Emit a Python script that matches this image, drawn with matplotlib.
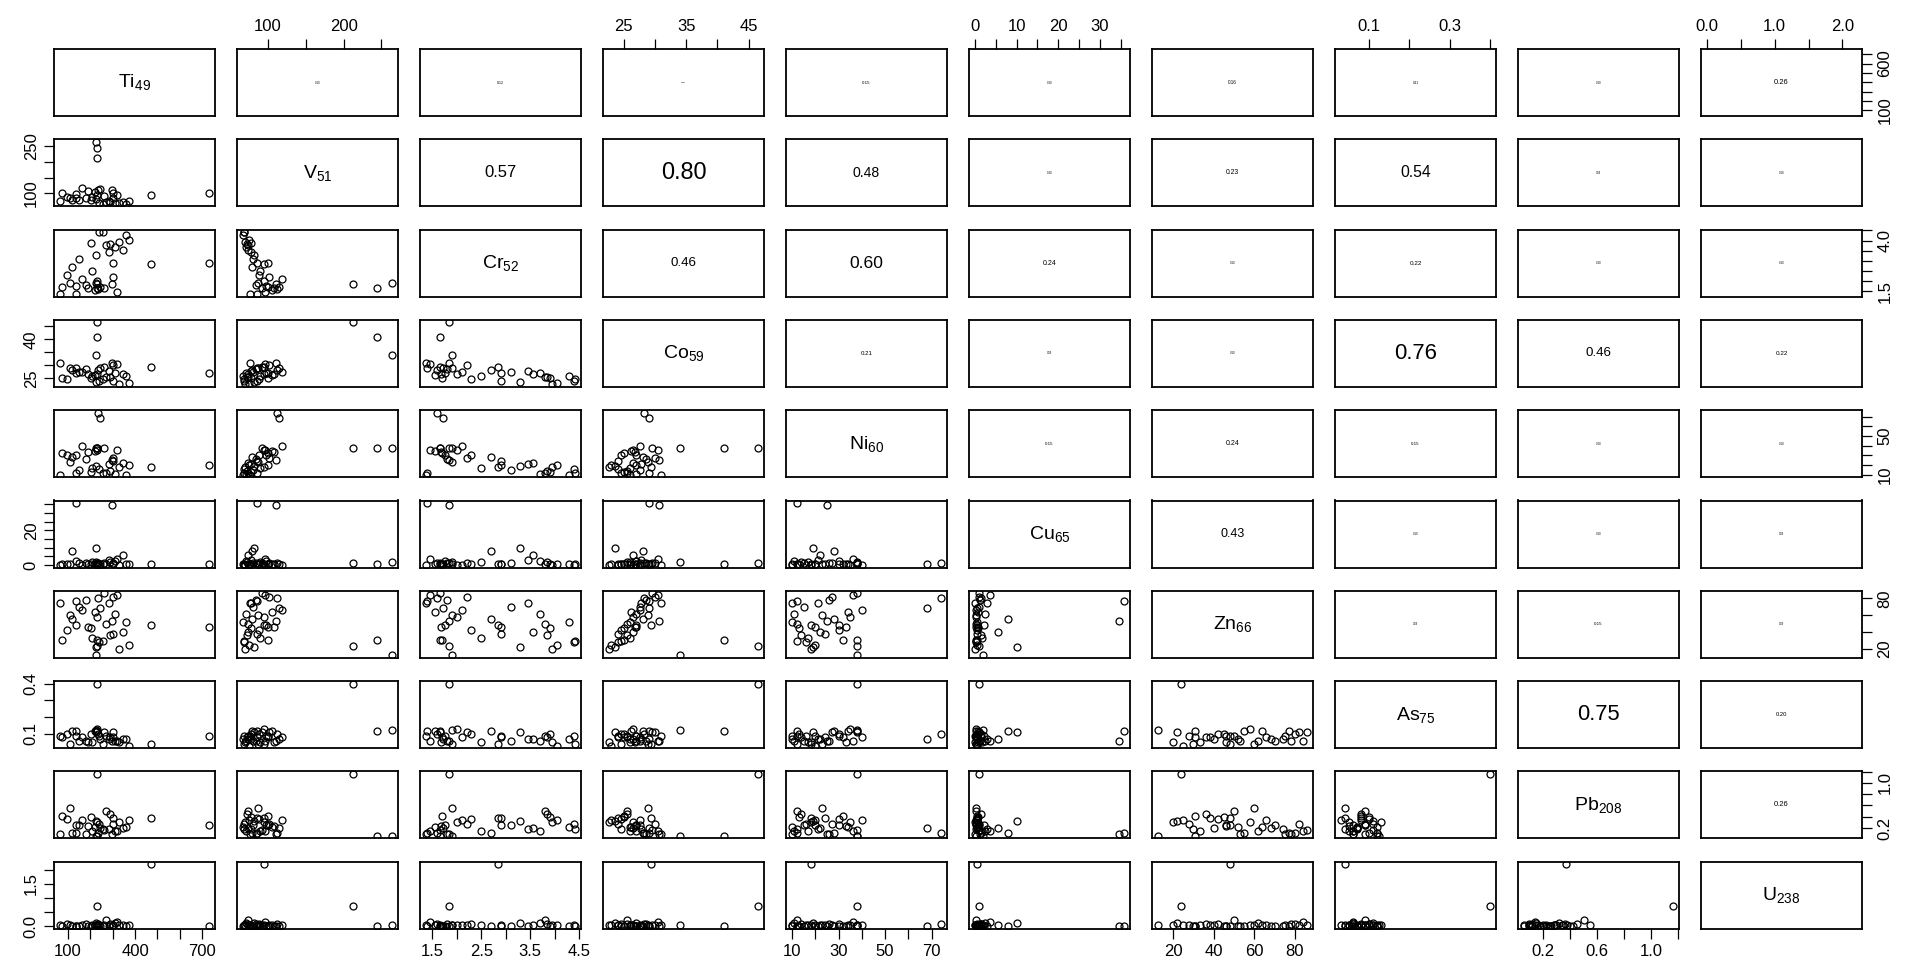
import matplotlib
matplotlib.use("Agg")
import matplotlib.pyplot as plt

plt.rcParams['font.family'] = ['Liberation Sans', 'DejaVu Sans']
plt.rcParams['mathtext.default'] = 'regular'

labels = ['Ti$_{49}$', 'V$_{51}$', 'Cr$_{52}$', 'Co$_{59}$', 'Ni$_{60}$',
          'Cu$_{65}$', 'Zn$_{66}$', 'As$_{75}$', 'Pb$_{208}$', 'U$_{238}$']

# one value per sample, same order in every list
Ti = [255, 330, 360, 290, 375, 310, 240, 205, 345, 225, 150, 300, 120, 270, 210, 95,
      285, 230, 180, 75, 260, 135, 220, 110, 235, 245, 165, 320, 190, 65, 300,
      730, 472, 228, 232, 226, 137, 295]
V = [68, 70, 67, 72, 75, 71, 69, 78, 74, 82, 80, 85, 79, 73, 90, 88,
     77, 95, 84, 100, 92, 98, 105, 87, 112, 115, 118, 96, 108, 76, 102,
     100, 95, 212, 244, 264, 85, 110]
Cr = [4.42, 3.95, 4.30, 3.85, 4.05, 3.70, 4.40, 3.90, 3.55, 3.30, 3.10, 2.90, 2.70, 3.80, 2.50, 2.30,
      3.45, 2.00, 1.80, 1.70, 1.65, 1.75, 1.55, 1.90, 1.60, 1.72, 2.10, 1.45, 1.68, 1.37, 2.20,
      2.90, 2.85, 1.85, 1.65, 1.90, 1.40, 1.85]
Co = [24.5, 22.6, 26.0, 25.5, 23.0, 27.0, 24.0, 25.0, 26.5, 23.5, 27.5, 24.0, 28.0, 25.5, 26.0, 24.5,
      27.8, 26.5, 28.5, 25.0, 29.5, 27.0, 26.2, 28.8, 28.2, 29.0, 27.5, 30.5, 26.8, 31.0, 30.0,
      27.0, 29.4, 46.5, 41.0, 34.0, 29.0, 30.7]
Ni = [12, 18, 10, 14, 20, 11, 16, 13, 22, 19, 15, 24, 28, 12, 17, 30,
      21, 35, 26, 32, 38, 30, 34, 23, 74, 68, 40, 36, 33, 10, 27,
      20, 18, 38, 38, 38, 12, 25]
Cu = [0.3, 0.1, 0.6, 1.5, 0.4, 2.5, 0.2, 0.8, 5.5, 10.0, 1.0, 0.5, 8.0, 0.3, 1.8, 0.6,
      3.0, 0.2, 1.2, 0.4, 0.9, 2.2, 0.7, 0.3, 1.4, 0.5, 0.2, 3.5, 0.8, 0.0, 1.0,
      0.3, 0.5, 1.0, 0.3, 2.0, 35.8, 34.5]
Zn = [30, 20, 52, 36, 25, 62, 28, 45, 40, 22, 70, 38, 55, 50, 33, 42,
      74, 58, 78, 31, 86, 48, 64, 60, 80, 68, 66, 84, 46, 75, 82,
      46, 48, 24, 31, 12.5, 77, 53]
As = [0.04, 0.05, 0.07, 0.08, 0.03, 0.06, 0.09, 0.10, 0.07, 0.11, 0.06, 0.08, 0.12, 0.09, 0.05, 0.10,
      0.07, 0.13, 0.06, 0.08, 0.11, 0.09, 0.12, 0.04, 0.10, 0.07, 0.08, 0.06, 0.05, 0.09, 0.11,
      0.09, 0.04, 0.40, 0.12, 0.125, 0.12, 0.06]
Pb = [0.18, 0.30, 0.22, 0.45, 0.35, 0.15, 0.28, 0.40, 0.20, 0.32, 0.25, 0.38, 0.12, 0.50, 0.14, 0.36,
      0.18, 0.30, 0.10, 0.42, 0.16, 0.26, 0.22, 0.55, 0.12, 0.20, 0.34, 0.14, 0.24, 0.10, 0.28,
      0.25, 0.37, 1.16, 0.06, 0.06, 0.12, 0.10]
U = [0.02, 0.05, 0.01, 0.08, 0.03, 0.10, 0.04, 0.02, 0.06, 0.12, 0.00, 0.05, 0.02, 0.22, 0.03, 0.07,
     0.01, 0.04, 0.09, 0.02, 0.05, 0.00, 0.06, 0.03, 0.08, 0.01, 0.04, 0.15, 0.02, 0.05, 0.03,
     0.02, 2.20, 0.70, 0.02, 0.03, 0.02, 0.01]
data = [Ti, V, Cr, Co, Ni, Cu, Zn, As, Pb, U]

# correlation text shown above the diagonal (row i, columns i+1..9)
cor_upper = [
    [0.10, 0.12, 0.08, 0.15, 0.10, 0.16, 0.11, 0.10, 0.26],
    [0.57, 0.80, 0.48, 0.10, 0.23, 0.54, 0.09, 0.10],
    [0.46, 0.60, 0.24, 0.10, 0.22, 0.10, 0.10],
    [0.21, 0.09, 0.10, 0.76, 0.46, 0.22],
    [0.15, 0.24, 0.15, 0.10, 0.10],
    [0.43, 0.10, 0.10, 0.09],
    [0.09, 0.15, 0.09],
    [0.75, 0.20],
    [0.26],
]

# axis ticks for each variable and the labels that show on the x and y sides
ticks = [
    [100, 200, 300, 400, 500, 600, 700],
    [100, 150, 200, 250],
    [1.5, 2.0, 2.5, 3.0, 3.5, 4.0, 4.5],
    [25, 30, 35, 40, 45],
    [10, 20, 30, 40, 50, 60, 70],
    [0, 5, 10, 15, 20, 25, 30, 35],
    [20, 40, 60, 80],
    [0.1, 0.2, 0.3, 0.4],
    [0.2, 0.4, 0.6, 0.8, 1.0, 1.2],
    [0.0, 0.5, 1.0, 1.5, 2.0],
]
xlabs = [
    ['100', '', '', '400', '', '', '700'],
    ['100', '', '200', ''],
    ['1.5', '', '2.5', '', '3.5', '', '4.5'],
    ['25', '', '35', '', '45'],
    ['10', '', '30', '', '50', '', '70'],
    ['0', '', '10', '', '20', '', '30', ''],
    ['20', '40', '60', '80'],
    ['0.1', '', '0.3', ''],
    ['0.2', '', '0.6', '', '1.0', ''],
    ['0.0', '', '1.0', '', '2.0'],
]
ylabs = [
    ['100', '', '', '', '', '600', ''],
    ['100', '', '', '250'],
    ['1.5', '', '', '', '', '4.0', ''],
    ['25', '', '', '40', ''],
    ['10', '', '', '', '50', '', ''],
    ['0', '', '', '', '20', '', '', ''],
    ['20', '', '', '80'],
    ['0.1', '', '', '0.4'],
    ['0.2', '', '', '', '1.0', ''],
    ['0.0', '', '', '1.5', ''],
]

W, H = 1905, 973
fig = plt.figure(figsize=(W / 100, H / 100), dpi=100)

n = len(data)
x0, pw, sx = 54, 161, 183
y0, ph, sy = 49, 67, 90.3

lims = []
for v in data:
    lo, hi = min(v), max(v)
    pad = 0.04 * (hi - lo)
    lims.append((lo - pad, hi + pad))

for i in range(n):
    for j in range(n):
        left = (x0 + j * sx) / W
        bottom = 1 - (y0 + i * sy + ph) / H
        ax = fig.add_axes([left, bottom, pw / W, ph / H])
        ax.set_xlim(lims[j])
        ax.set_ylim(lims[i])
        for s in ax.spines.values():
            s.set_linewidth(1.3)
        ax.tick_params(direction='out', length=7, width=0.9, labelsize=12, pad=4,
                       bottom=False, top=False, left=False, right=False,
                       labelbottom=False, labeltop=False, labelleft=False, labelright=False)

        if i == j:
            ax.text(0.5, 0.5, labels[i], transform=ax.transAxes,
                    ha='center', va='center', fontsize=14)
        elif i > j:
            ax.plot(data[j], data[i], 'o', ms=5, mfc='none', mec='black', mew=0.9)
        else:
            r = cor_upper[i][j - i - 1]
            ax.text(0.5, 0.5, '%.2f' % r, transform=ax.transAxes,
                    ha='center', va='center', fontsize=21 * r)

        ax.set_xticks(ticks[j])
        ax.set_yticks(ticks[i])
        ax.set_xticklabels(xlabs[j])
        ax.set_yticklabels(ylabs[i], rotation=90, va='center')

        if i == 0 and j % 2 == 1:
            ax.tick_params(top=True, labeltop=True)
        if i == n - 1 and j % 2 == 0:
            ax.tick_params(bottom=True, labelbottom=True)
        if j == 0 and i % 2 == 1:
            ax.tick_params(left=True, labelleft=True)
        if j == n - 1 and i % 2 == 0:
            ax.tick_params(right=True, labelright=True)

fig.savefig('out.png', dpi=100)
